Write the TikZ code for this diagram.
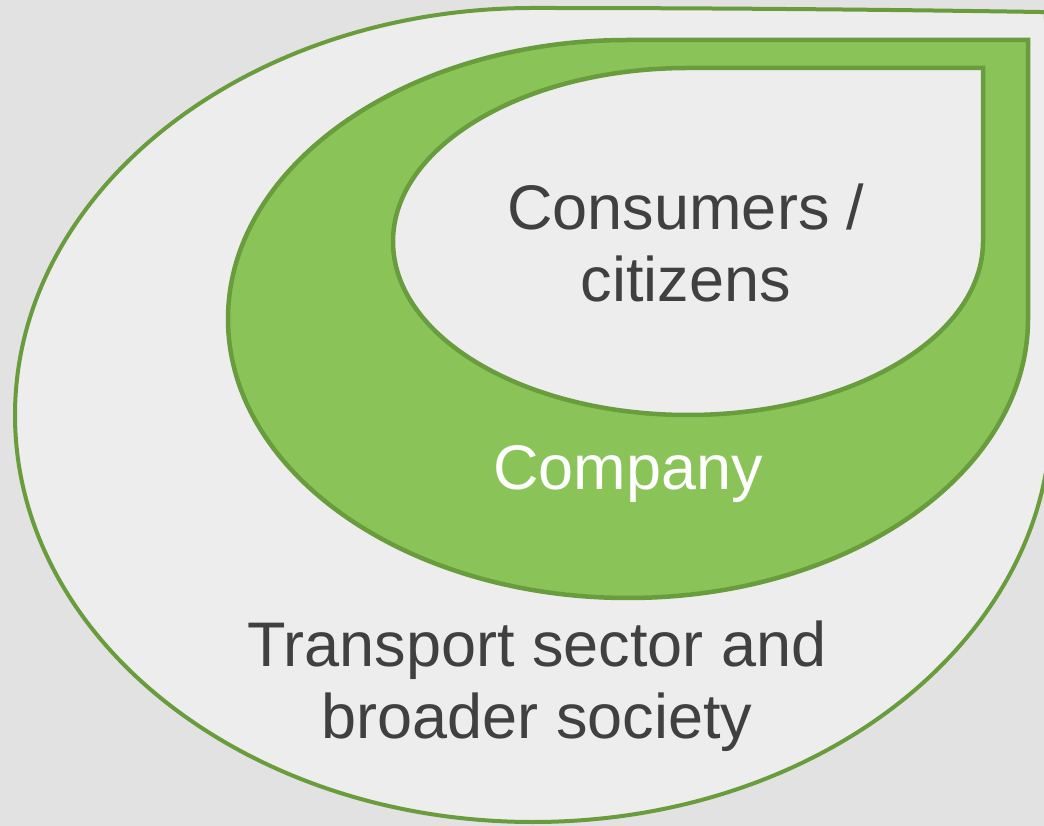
\documentclass[tikz,border=0pt]{standalone}
\usepackage{fontspec}
\setmainfont{Liberation Sans}
\usetikzlibrary{calc}

\definecolor{leaf}{HTML}{8AC458}
\definecolor{leafdark}{HTML}{689C3C}
\definecolor{paper}{HTML}{EDEDED}
\definecolor{paperedge}{HTML}{E2E2E2}
\definecolor{ink}{HTML}{404040}

\tikzset{
  drop/.style={draw=leafdark, line join=miter},
  drop text/.style={font=\fontsize{63}{72}\selectfont, align=center, inner sep=0pt, anchor=base},
}

\begin{document}
\begin{tikzpicture}[x=1pt,y=1pt]
  \useasboundingbox (0,0) rectangle (1044,825);
  \shade[inner color=paper, outer color=paperedge] (0,0) rectangle (1044,825);

  % outer drop, its tip just past the right edge
  \coordinate (OL) at (15,410);
  \coordinate (OT) at (1045.8,812.9);
  \coordinate (OR) at (1051,410);
  \draw[drop, fill=paper, line width=4pt] (OL)
    arc[start angle=180, end angle=90, x radius=518, y radius=407]
    .. controls (704,817) and (874.9,815.6) .. (OT)
    .. controls (1049.3,678.6) and (1051,544.3) .. (OR)
    arc[start angle=0, end angle=-180, x radius=518, y radius=407] -- cycle;

  % green band
  \coordinate (ML) at (228,506);
  \coordinate (MT) at (1028,785);
  \coordinate (MR) at (1028,506);
  \draw[drop, fill=leaf, line width=4.5pt] (ML)
    arc[start angle=180, end angle=90, x radius=400, y radius=279]
    -- (MT) -- (MR)
    arc[start angle=0, end angle=-180, x radius=400, y radius=279] -- cycle;

  % inner drop
  \coordinate (IL) at (393,583.5);
  \coordinate (IT) at (983,757);
  \coordinate (IR) at (983,583.5);
  \draw[drop, fill=paper, line width=4.5pt] (IL)
    arc[start angle=180, end angle=90, x radius=295, y radius=173.5]
    -- (IT) -- (IR)
    arc[start angle=0, end angle=-180, x radius=295, y radius=173.5] -- cycle;

  % base anchor sits on the last line
  \node[drop text, text=ink] (consumers) at (686,523) {Consumers /\\citizens};
  \node[drop text, text=white] (company) at (628,335) {Company};
  \node[drop text, text=ink] (society) at (537,87) {Transport sector and\\broader society};
\end{tikzpicture}
\end{document}
